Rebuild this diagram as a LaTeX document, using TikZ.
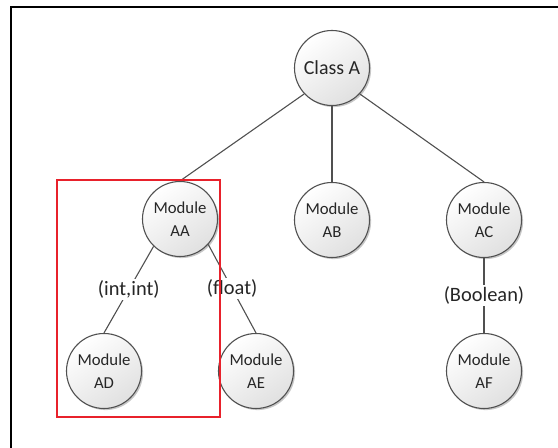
\documentclass[tikz,border=0pt]{standalone}
\usepackage{fontspec}
\setmainfont{Carlito}
\usetikzlibrary{shadows}
\definecolor{edgegray}{HTML}{505050}
\definecolor{txtgray}{HTML}{262626}
\definecolor{boxred}{HTML}{E8212B}
\begin{document}
\begin{tikzpicture}[x=1bp,y=1bp,
  module/.style={circle, draw=edgegray, line width=1.1bp, minimum size=75bp, inner sep=0pt,
    top color=white, bottom color=black!12, shading angle=35,
    drop shadow={shadow xshift=1.6bp, shadow yshift=-1.6bp, opacity=0.22, fill=black},
    align=center, text=txtgray, font=\fontsize{16.8}{23}\selectfont},
  classnode/.style={module, font=\fontsize{20}{24}\selectfont},
  link/.style={draw=edgegray, line width=1.1bp},
  lbl/.style={fill=white, inner sep=1.5bp, text=txtgray, font=\fontsize{20.5}{24}\selectfont}]
\useasboundingbox (0,0) rectangle (558,448);
% frame: only the top and left edges are in view
\draw[line width=2bp, black] (11,-2) -- (11,440.5) -- (560,440.5);

% nodes
\node[classnode] (A)  at (332,380) {Class A};
\node[module]    (AA) at (180,229) {Module\\AA};
\node[module]    (AB) at (332,228) {Module\\AB};
\node[module]    (AC) at (484,228) {Module\\AC};
\node[module]    (AD) at (104,77)  {Module\\AD};
\node[module]    (AE) at (256,77)  {Module\\AE};
\node[module]    (AF) at (484,77)  {Module\\AF};

% connectors
\draw[link] (A.-137) -- (AA.north);
\draw[link] (A.south) -- (AB.north);
\draw[link] (A.-43) -- (AC.north);
\draw[link] (AA.-134) -- node[lbl] {(int,int)} (AD.north);
\draw[link] (AA.-42) -- node[lbl] {(float)} (AE.north);
\draw[link] (AC.south) -- node[lbl] {(Boolean)} (AF.north);

% highlight box
\draw[boxred, line width=1.5bp] (57,268) rectangle (220,31);
\end{tikzpicture}
\end{document}
